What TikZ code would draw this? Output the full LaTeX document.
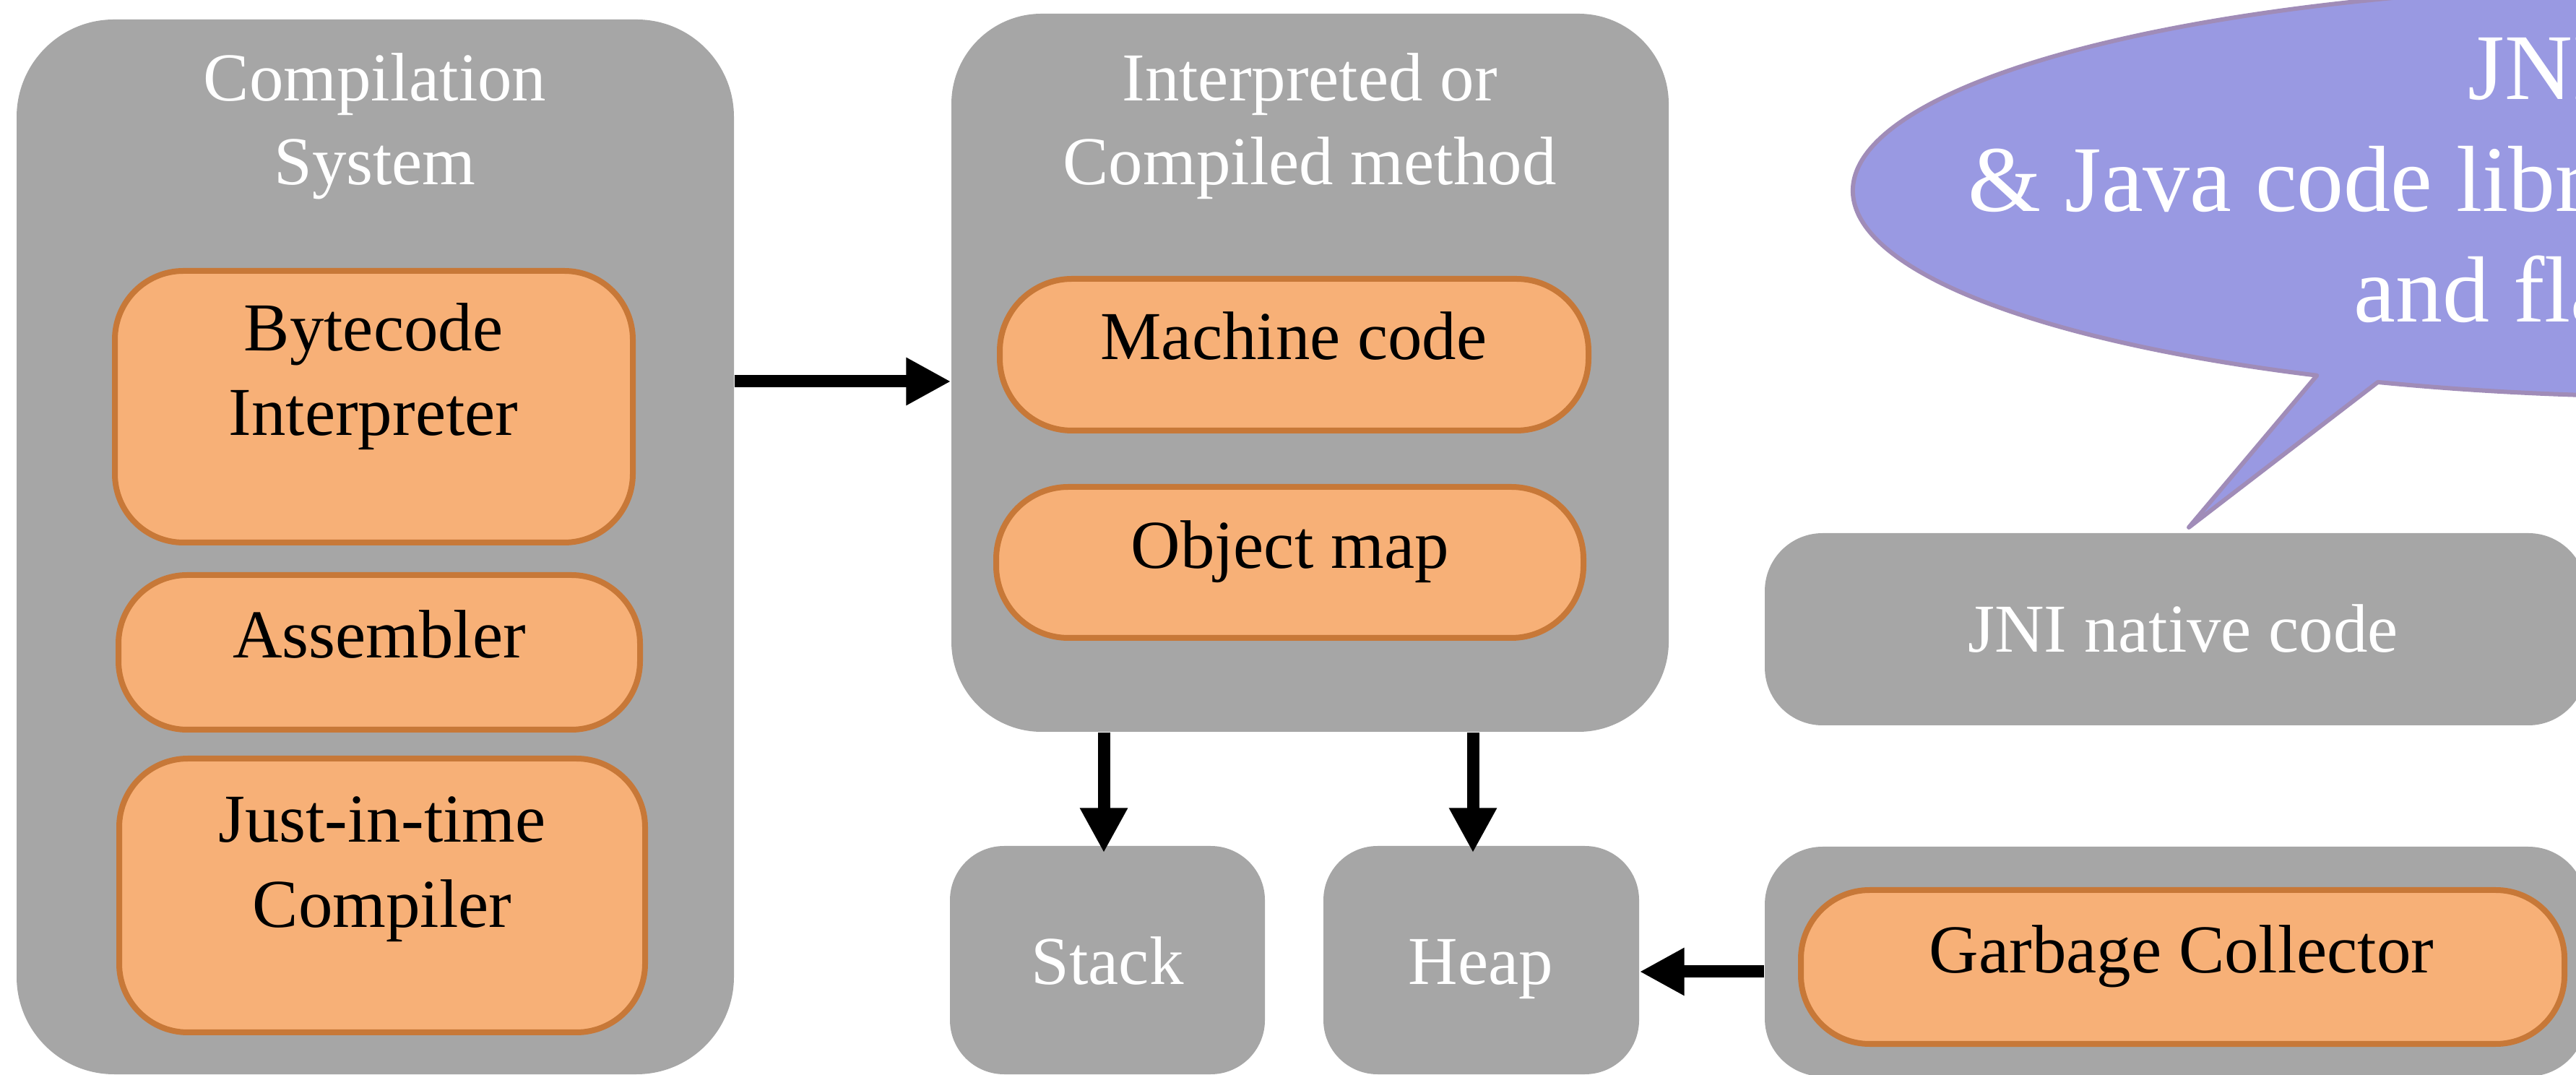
\documentclass[tikz,border=0pt]{standalone}
\usepackage{fontspec}
\setmainfont{Liberation Serif}
\usetikzlibrary{arrows.meta}
\definecolor{boxgray}{HTML}{A6A6A6}
\definecolor{orfill}{HTML}{F7B077}
\definecolor{ordraw}{HTML}{C77838}
\definecolor{bubfill}{HTML}{9999E2}
\definecolor{bubdraw}{HTML}{A08CB8}
\tikzset{
  graybox/.style={fill=boxgray, draw=none, inner sep=0pt},
  orbox/.style={fill=orfill, draw=ordraw, line width=0.08cm, inner sep=0pt, rounded corners=0.95cm},
  wtext/.style={text=white, font=\fontsize{27}{33}\selectfont, inner sep=0pt, anchor=base},
  btext/.style={text=black, font=\fontsize{27}{33}\selectfont, inner sep=0pt, anchor=base},
  bubtext/.style={text=white, font=\fontsize{37}{44}\selectfont, inner sep=0pt, anchor=base west},
  arr/.style={line width=0.17cm, draw=black, -{Triangle[length=0.62cm, width=0.62cm]}}
}
\begin{document}
\begin{tikzpicture}
\useasboundingbox (0,0) rectangle (35.66,14.87);
\clip (0,0) rectangle (35.66,14.87);
% gray containers
\node[graybox, minimum width=9.93cm, minimum height=14.60cm, rounded corners=1.35cm] (comp) at (5.195,7.30) {};
\node[graybox, minimum width=9.93cm, minimum height=9.94cm, rounded corners=1.25cm] (interp) at (18.135,9.71) {};
\node[graybox, minimum width=4.36cm, minimum height=3.16cm, rounded corners=0.75cm] (stack) at (15.33,1.58) {};
\node[graybox, minimum width=4.37cm, minimum height=3.16cm, rounded corners=0.75cm] (heap) at (20.505,1.58) {};
\node[graybox, minimum width=11.37cm, minimum height=2.66cm, rounded corners=0.8cm] (jni) at (30.115,6.16) {};
\node[graybox, minimum width=11.37cm, minimum height=3.18cm, rounded corners=0.8cm] (gcbox) at (30.115,1.56) {};
% orange boxes
\node[orbox, minimum width=7.17cm, minimum height=3.76cm] (bci) at (5.175,9.24) {};
\node[orbox, minimum width=7.22cm, minimum height=2.14cm] (asm) at (5.25,5.84) {};
\node[orbox, minimum width=7.28cm, minimum height=3.79cm] (jit) at (5.29,2.475) {};
\node[orbox, minimum width=8.15cm, minimum height=2.10cm, rounded corners=1.0cm] (mc) at (17.915,9.96) {};
\node[orbox, minimum width=8.13cm, minimum height=2.09cm, rounded corners=1.0cm] (om) at (17.855,7.085) {};
\node[orbox, minimum width=10.57cm, minimum height=2.13cm] (gc) at (30.215,1.485) {};
% texts
\node[wtext] (ct1) at (5.19,13.47) {Compilation};
\node[wtext] (ct2) at (5.19,12.31) {System};
\node[wtext] (it1) at (18.13,13.47) {Interpreted or};
\node[wtext] (it2) at (18.13,12.31) {Compiled method};
\node[btext] (bt1) at (5.17,10.01) {Bytecode};
\node[btext] (bt2) at (5.17,8.84) {Interpreter};
\node[btext] (at1) at (5.25,5.76) {Assembler};
\node[btext] (jt1) at (5.29,3.21) {Just-in-time};
\node[btext] (jt2) at (5.29,2.03) {Compiler};
\node[btext] (mt1) at (17.91,9.89) {Machine code};
\node[btext] (ot1) at (17.855,7.00) {Object map};
\node[wtext] (st1) at (15.33,1.24) {Stack};
\node[wtext] (ht1) at (20.50,1.24) {Heap};
\node[wtext] (nt1) at (30.22,5.84) {JNI native code};
\node[btext] (gt1) at (30.20,1.40) {Garbage Collector};
% arrows
\draw[arr] (comp.east |- {(0,9.59)}) -- (interp.west |- {(0,9.59)});
\draw[arr] (interp.south -| {(15.28,0)}) -- ([yshift=-0.1cm]stack.north -| {(15.28,0)});
\draw[arr] (interp.south -| {(20.39,0)}) -- ([yshift=-0.1cm]heap.north -| {(20.39,0)});
\draw[arr] (gcbox.west |- {(0,1.42)}) -- (heap.east |- {(0,1.42)});
% speech bubble
\coordinate (bc) at (37.15,12.23);
\coordinate (tip) at (30.30,7.57);
\draw[fill=bubfill, draw=bubdraw, line width=0.06cm, line join=round]
  ([shift={(248.4:11.5cm and 2.85cm)}]bc) arc[start angle=248.4, end angle=603.8, x radius=11.5cm, y radius=2.85cm] -- (tip) -- cycle;
\node[bubtext] (bt_1) at (34.16,13.49) {JNI};
\node[bubtext] (bt_2) at (27.24,11.94) {\& Java code libraries};
\node[bubtext] (bt_3) at (32.58,10.41) {and flags};
\end{tikzpicture}
\end{document}
